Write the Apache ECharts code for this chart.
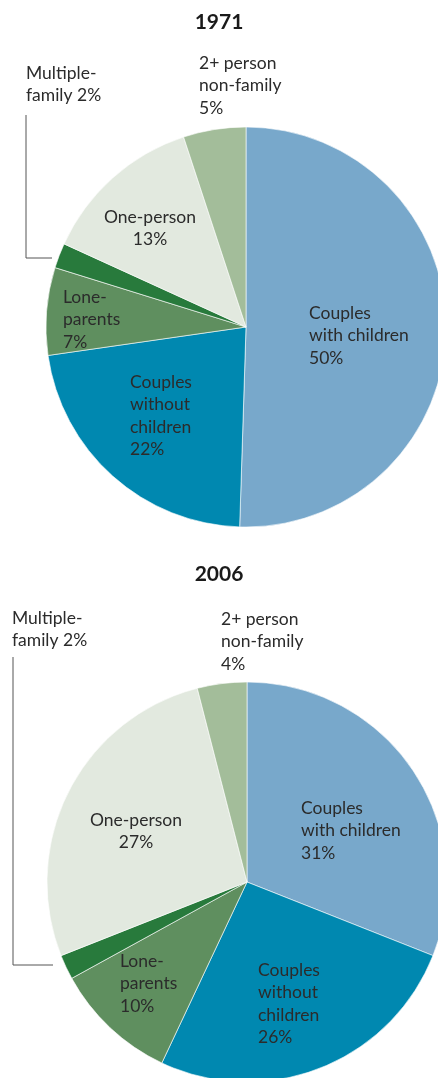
<!DOCTYPE html>
<html>
<head>
<meta charset="utf-8">
<script src="https://cdn.jsdelivr.net/npm/echarts@6/dist/echarts.min.js"></script>
<style>
html,body{margin:0;padding:0;background:#fff;}
#chart{width:438px;height:1078px;}
</style>
</head>
<body>
<div id="chart"></div>
<script>
// ---- data ----
var years = ['1971', '2006'];
var categories = ['Couples with children', 'Couples without children', 'Lone-parents', 'Multiple-family', 'One-person', '2+ person non-family'];
var labelNames = ['Couples\nwith children', 'Couples\nwithout\nchildren', 'Lone-\nparents', 'Multiple-\nfamily', 'One-person', '2+ person\nnon-family'];
var values1971 = [50, 22, 7, 2, 13, 5];
var values2006 = [31, 26, 10, 2, 27, 4];

// ---- styles / layout ----
var colors = ['#78a8cb', '#0088b0', '#5f8f5f', '#287a3c', '#e2e9df', '#a3bd9a'];
var separators = ['\n', '\n', '\n', ' ', '\n', '\n'];
var centers = [[246, 327], [247, 882]];
var radius = 200;
// label anchor offsets relative to pie centre [dx, dy, align]
var labelOffsets = [
  [[63, -25, 'left'], [-116, 44, 'left'], [-183, -41, 'left'], [-220, -265, 'left'], [-96, -121, 'center'], [-47, -275, 'left']],
  [[54, -85, 'left'], [11, 77, 'left'], [-127, 68, 'left'], [-235, -275, 'left'], [-111, -73, 'center'], [-26, -274, 'left']]
];
// leader line for the small slice, relative to pie centre
var leaderOffsets = [
  [[-194, -69], [-220, -69], [-220, -212]],
  [[-194, 83], [-234, 83], [-234, -225]]
];
var FONT = 'Lato, "Open Sans", sans-serif';

var chart = echarts.init(document.getElementById('chart'), null, {renderer: 'canvas'});

function makeSeries(idx, values) {
  var c = centers[idx];
  return {
    type: 'pie',
    center: c,
    radius: radius,
    startAngle: 90,
    clockwise: true,
    avoidLabelOverlap: false,
    silent: true,
    itemStyle: {borderColor: '#ffffff', borderWidth: 0.6},
    label: {
      show: true,
      position: 'outside',
      color: '#2b2b2b',
      fontFamily: FONT,
      fontSize: 17.5,
      lineHeight: 22.5,
      formatter: function (p) {
        return labelNames[p.dataIndex] + separators[p.dataIndex] + p.value + '%';
      }
    },
    labelLine: {show: false},
    data: values.map(function (v, i) {
      var item = {name: categories[i], value: v, itemStyle: {color: colors[i]}};
      if (i === 3) {
        item.labelLine = {show: true, length: 5, length2: 5, smooth: false, lineStyle: {color: '#555555', width: 1}};
      }
      return item;
    }),
    labelLayout: function (p) {
      var o = labelOffsets[idx][p.dataIndex];
      var res = {x: c[0] + o[0], y: c[1] + o[1], align: o[2], verticalAlign: 'top', hideOverlap: false, moveOverlap: false};
      if (p.dataIndex === 3) {
        res.labelLinePoints = leaderOffsets[idx].map(function (pt) { return [c[0] + pt[0], c[1] + pt[1]]; });
      }
      return res;
    }
  };
}

chart.setOption({
  backgroundColor: '#ffffff',
  animation: false,
  title: [
    {text: years[0], left: 'center', top: 7, textStyle: {fontFamily: FONT, fontWeight: 'bold', fontSize: 21, color: '#1a1a1a'}},
    {text: years[1], left: 'center', top: 559, textStyle: {fontFamily: FONT, fontWeight: 'bold', fontSize: 21, color: '#1a1a1a'}}
  ],
  series: [makeSeries(0, values1971), makeSeries(1, values2006)]
});
</script>
</body>
</html>
